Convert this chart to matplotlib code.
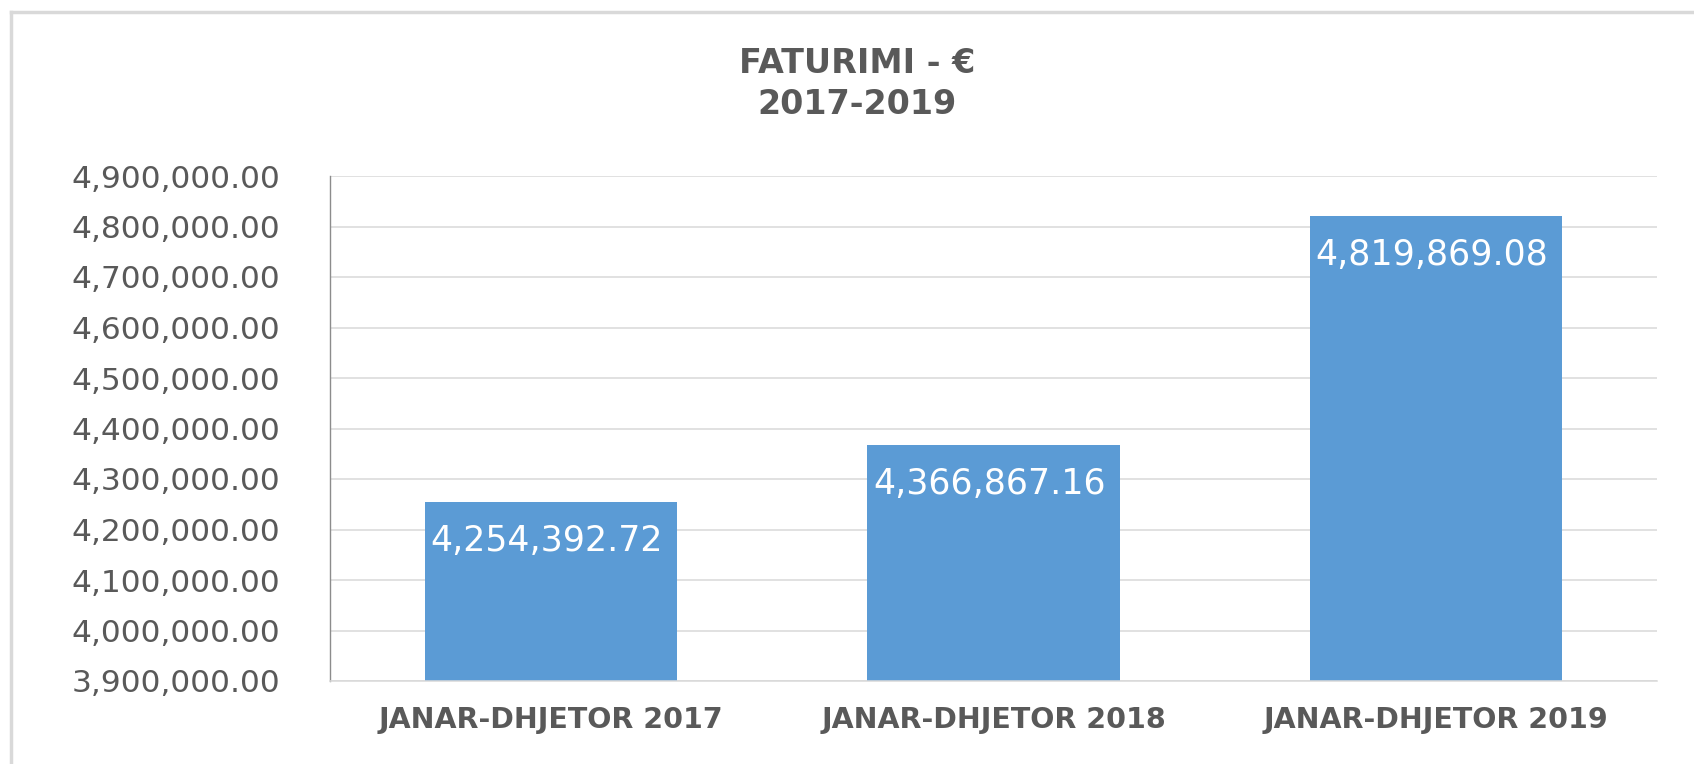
import matplotlib.pyplot as plt
import numpy as np
from matplotlib.lines import Line2D
from matplotlib.ticker import FuncFormatter, MultipleLocator

# Datos del grafico
categories = ['JANAR-DHJETOR 2017', 'JANAR-DHJETOR 2018', 'JANAR-DHJETOR 2019']
values = [4254392.72, 4366867.16, 4819869.08]
y_min, y_max, y_step = 3900000, 4900000, 100000

W, H = 1694, 764
fig = plt.figure(figsize=(W / 100, H / 100), dpi=100)
ax = fig.add_axes([330 / W, 83 / H, 1327 / W, 505 / H])

x = np.arange(len(categories))
bars = ax.bar(x, values, width=0.57, color='#5B9BD5', zorder=2)

ax.set_xlim(-0.5, len(categories) - 0.5)
ax.set_ylim(y_min, y_max)
ax.yaxis.set_major_locator(MultipleLocator(y_step))
ax.yaxis.set_major_formatter(FuncFormatter(lambda v, p: f'{v:,.2f}'))
ax.grid(axis='y', color='#d9d9d9', linewidth=1.1, zorder=0)
ax.set_axisbelow(True)

for side in ['top', 'right']:
    ax.spines[side].set_visible(False)
ax.spines['left'].set_color('#8c8c8c')
ax.spines['left'].set_linewidth(1.0)
ax.spines['bottom'].set_color('#d9d9d9')
ax.spines['bottom'].set_linewidth(1.1)

ax.set_xticks(x)
ax.set_xticklabels(categories, fontsize=20.5, fontweight='bold', color='#595959')
ax.tick_params(axis='x', length=0, pad=18)
ax.tick_params(axis='y', length=0, pad=36, labelsize=22.5, labelcolor='#595959')

# Etiquetas de valores dentro de las barras (recortadas por la barra)
for bar, val in zip(bars, values):
    t = ax.annotate(f'{val:,.2f}', xy=(bar.get_x(), bar.get_height()),
                    xytext=(4, -28), textcoords='offset points',
                    ha='left', va='center', fontsize=25, color='white', zorder=3)
    t.set_clip_path(bar)

fig.text(857 / W, 1 - 84 / H, 'FATURIMI - €\n2017-2019', ha='center', va='center',
         fontsize=24, fontweight='bold', color='#595959', linespacing=1.3)

# Borde del grafico
fig.add_artist(Line2D([11 / W, 1], [1 - 12 / H, 1 - 12 / H], color='#d9d9d9', linewidth=2.5))
fig.add_artist(Line2D([11 / W, 11 / W], [0, 1 - 12 / H], color='#d9d9d9', linewidth=2.5))

fig.savefig('out.png', dpi=100)
